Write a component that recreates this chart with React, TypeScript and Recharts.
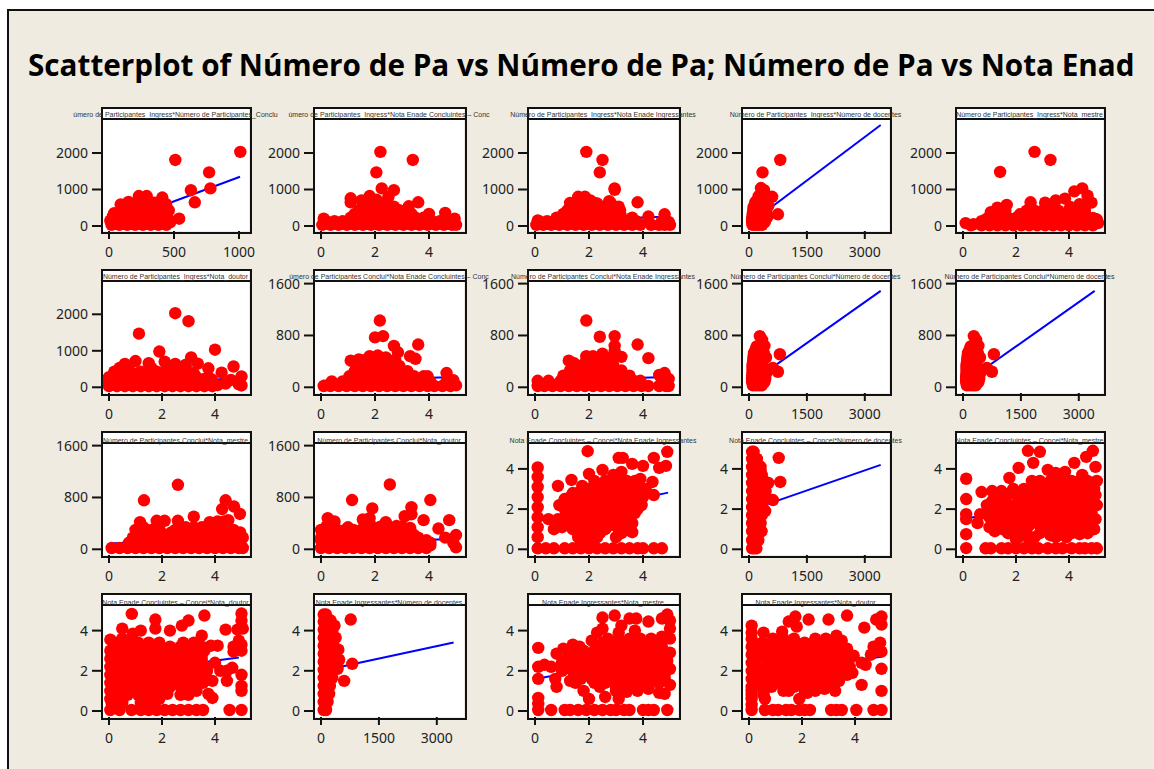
import { ScatterChart, Scatter, XAxis, YAxis } from "recharts";

type Pt = number[];
const row = (y: number, xs: number[]): Pt[] => xs.map((x) => [x, y]);

// values, one list per panel: [x, y]
const p01: Pt[] = [[1010,2030],[510,1810],[770,1470],[780,1030],[630,980],[660,650],[540,200],[470,100],[460,430],[440,600],[410,780],[350,640],[290,820],[230,820],[150,660],[90,590],[270,640],[220,640],[410,620],[300,700],[40,350],[145,520],
  ...row(30,[20,80,140,200,260,320,380,440]),
  ...row(150,[10,50,110,170,230,290,350,410,470]),
  ...row(270,[30,80,140,200,260,320,380,440]),
  ...row(390,[100,170,230,290,350,410,450]),
  ...row(510,[130,250,290,360,420])];
const p02: Pt[] = [[2.2,2030],[3.4,1810],[2.05,1470],[2.25,1030],[2.7,980],[1.1,760],[1.1,650],[3.25,540],[3.6,650],[4.6,360],[4.95,200],[.1,200],[1.5,700],[1.8,820],[2.4,640],[2.5,800],[2.05,720],
  ...row(30,[.05,.35,.65,.95,1.25,1.55,1.85,2.15,2.45,2.75,3.05,3.35,3.65,3.95,4.25,4.55,4.85,5]),
  ...row(80,[.2,.5,.8,1.1,3.9,4.1,4.4,4.7]),
  ...row(130,[.2,.5,.8,1.1,1.4,1.7,2,2.3,2.6,2.9,3.2,3.5,3.8,4.1,4.4,4.7]),
  ...row(230,[1.1,1.4,1.7,2,2.3,2.6,2.9,3.2,3.5,3.8,4.6]),
  ...row(330,[1.25,1.55,1.85,2.15,2.45,2.75,3.05,3.35,4]),
  ...row(430,[1.4,1.7,2,2.3,2.6,2.9]),
  ...row(530,[1.55,1.85,2.15,2.45,2.7]),
  ...row(630,[1.7,2,2.25])];
const p03: Pt[] = [[1.9,2030],[2.5,1810],[2.4,1470],[2.95,1030],[2.95,990],[3.8,650],[4.2,260],[4.8,320],[4.95,110],[.1,150],
  ...row(30,[.05,.3,.6,.9,1.2,1.5,1.8,2.1,2.4,2.7,3,3.3,3.6,3.9,4.3,4.6,4.8,5]),
  ...row(130,[.15,.45,.75,1.05,1.35,1.65,1.95,2.25,2.55,2.85,3.15,3.45,3.75,4.2,4.7]),
  ...row(230,[.8,1.1,1.4,1.7,2,2.3,2.6,2.9,3.2,3.6]),
  ...row(330,[1.05,1.35,1.65,1.95,2.25,2.55,2.85,3.15]),
  ...row(430,[1.2,1.5,1.8,2.1,2.4,2.7,3,3.15]),
  ...row(530,[1.35,1.65,1.95,2.25,2.55,2.85,3.1]),
  ...row(630,[1.3,1.6,1.9,2.2,2.8]),
  [1.6,800],[1.85,800],[2.05,700],[2.3,620],[2.75,680]];
const p04: Pt[] = [[810,1810],[350,1470],[310,1040],[390,980],[600,800],[750,320],[500,550],[480,260],[420,700],[250,820],
  ...row(30,[90,170,250,340]),
  ...row(110,[80,160,240,320,410]),
  ...row(190,[80,170,250,330,440]),
  ...row(270,[90,170,250,330,420]),
  ...row(350,[100,180,260,340,450]),
  ...row(450,[110,190,270,370]),
  ...row(520,[120,200,280,380]),
  ...row(590,[150,230,310,400]),
  ...row(660,[170,250,340]),
  ...row(730,[230,350])];
const p05: Pt[] = [[2.7,2030],[3.3,1810],[1.4,1480],[4.5,1030],[4.2,950],[4.7,830],[4.85,640],[1.65,580],[1.3,500],[1.05,380],[2.55,650],[3.1,640],[3.5,700],[3.85,750],[.1,80],[.4,50],[.7,130],[.9,200],[5.05,180],[5.1,80],[4.4,600],
  ...row(20,[.3,.7,1,1.3,1.6,1.9,2.2,2.5,2.8,3.1,3.4,3.7,4,4.3,4.6,4.9]),
  ...row(120,[.85,1.15,1.45,1.75,2.05,2.35,2.65,2.95,3.25,3.55,3.85,4.15,4.45,4.75,5]),
  ...row(220,[1.1,1.4,1.7,2,2.3,2.6,2.9,3.2,3.5,3.8,4.1,4.4,4.7,4.9]),
  ...row(320,[1.25,1.55,2.15,2.45,2.75,3.05,3.35,3.65,3.95,4.25,4.55]),
  ...row(420,[1.3,1.6,2.4,2.7,3,3.3,3.6,4,4.3,4.6]),
  ...row(520,[2.55,3.15,3.45,4.05,4.6])];
const p06: Pt[] = [[2.5,2030],[3,1810],[1.13,1470],[4,1030],[1.9,980],[3.1,820],[3.35,650],[3.75,520],[4.7,570],[4.25,400],[5,300],[.6,640],[1,720],[1.5,660],[2.5,640],[2.9,620],[2.1,700],[2.2,500],[4.6,200],[4.9,80],[4.4,100],[5,50],[4.1,60],[3.9,180],
  ...row(30,[0,.3,.6,.9,1.2,1.5,1.8,2.1,2.4,2.7,3,3.3,3.6,3.9]),
  ...row(80,[.15,.45,.75,1.05,1.35,1.65,1.95,2.25,2.55,2.85,3.15,3.45,3.75]),
  ...row(130,[.15,.45,.75,1.05,1.35,1.65,1.95,2.25,2.55,2.85,3.15,3.45,3.75,0]),
  ...row(230,[0,.3,.6,.9,1.2,1.5,1.8,2.1,2.4,2.7,3,3.3,3.6,3.85]),
  ...row(280,[0,.3,.6,.9,1.2,1.5,1.8,2.1,2.4,2.7,3,3.3]),
  ...row(330,[.15,.45,.75,1.05,1.35,1.65,1.95,2.25,2.55,2.85,3.15]),
  ...row(380,[.2,.5,.8,1.1,1.4,1.7,2,2.3,2.6,2.9,3.2]),
  ...row(430,[.2,.5,.8,1.2,1.5,1.8,2.4,2.7,3]),
  ...row(530,[.4,.7,1.6,2.3,2.65])];
const p07: Pt[] = [[2.18,1030],[2,770],[2.3,790],[2.7,640],[3.6,660],[2.85,540],[3.3,480],[3.5,440],[1.1,410],[1.4,430],[1.8,480],[2.1,490],[2.4,460],[2.7,410],[4.65,220],[4.9,110],[5,30],
  ...row(20,[.1,.35,.65,.95,1.25,1.55,1.85,2.15,2.45,2.75,3.05,3.35,3.65,3.95,4.2,4.5,4.8]),
  ...row(90,[.4,.8,1.1,1.4,1.7,2,2.3,2.6,2.9,3.2,3.5,3.8,4.05,4.65]),
  ...row(170,[1.05,1.35,1.65,1.95,2.25,2.55,2.85,3.15,3.45,3.8,3.95]),
  ...row(250,[1.25,1.55,1.85,2.15,2.45,2.75,3.2]),
  ...row(330,[1.45,1.75,2.05,2.35,2.65,2.9]),
  ...row(420,[1.6,1.9,2.2,2.5,2.75])];
const p08: Pt[] = [[1.9,1030],[2.4,780],[2.95,790],[2.95,640],[2.95,560],[3.8,660],[4.2,450],[3.2,470],[1.25,410],[1.45,370],[1.9,480],[2.15,480],[2.5,520],[2.8,460],[4.8,220],[4.6,190],[4.95,130],
  ...row(20,[.1,.35,.65,.95,1.25,1.55,1.85,2.15,2.45,2.75,3.05,3.35,3.65,3.95,4.2,4.6,4.85,4.95]),
  ...row(100,[.1,.5,.95,1.25,1.55,1.85,2.15,2.45,2.75,3.05,3.35,3.65,3.9,4.7]),
  ...row(180,[1.05,1.35,1.65,1.95,2.25,2.55,2.85,3.15,3.5,4.8]),
  ...row(260,[1.3,1.6,1.9,2.2,2.5,2.8,3.2]),
  ...row(340,[1.75,2.05,2.35,2.65,2.9]),
  ...row(410,[1.9,2.2,2.5,2.8])];
const concluiDocentes: Pt[] = [[280,790],[340,730],[400,640],[800,510],[750,240],[620,300],[440,460],[230,540],
  ...row(30,[100,180,260,330]),
  ...row(80,[80,160,240,320,400]),
  ...row(130,[80,170,250,330,420]),
  ...row(180,[80,160,240,320,400]),
  ...row(230,[90,170,250,330,460]),
  ...row(280,[90,170,250,330,410]),
  ...row(330,[90,170,250,340]),
  ...row(380,[100,180,260,340]),
  ...row(430,[110,190,270,370]),
  ...row(480,[120,200,280,360]),
  ...row(530,[130,210,290,380]),
  ...row(580,[170,250,330]),
  ...row(630,[200,340])];
const p11: Pt[] = [[2.6,996],[1.32,756],[4.4,756],[4.27,620],[4.72,660],[4.94,545],[3.2,505],[4.5,450],[1.17,420],[1.8,440],[2.1,440],[2.6,440],[3.8,420],[4.1,430],[4.35,430],
  ...row(20,[.1,.4,.7,1,1.3,1.6,1.9,2.2,2.5,2.8,3.1,3.4,3.7,4,4.3,4.6,4.9,5.05]),
  ...row(60,[.75,1.05,1.35,1.65,1.95,2.25,2.55,2.85,3.15,3.45,3.75,4.05,4.35,4.65,4.95]),
  ...row(100,[.75,1.05,1.35,1.65,1.95,2.25,2.55,2.85,3.15,3.45,3.75,4.05,4.35,4.65,4.95]),
  ...row(140,[.9,1.2,1.5,1.8,2.1,2.4,2.7,3,3.3,3.6,3.9,4.2,4.5,4.8]),
  ...row(180,[.9,1.2,1.5,1.8,2.1,2.4,2.7,3,3.3,3.6,3.9,4.2,4.5,4.8,5.05]),
  ...row(220,[1.05,1.35,1.65,1.95,2.25,2.55,2.85,3.15,3.45,3.75,4.05,4.35,4.65]),
  ...row(260,[1.05,1.35,1.65,1.95,2.35,2.85,3.15,3.45,3.75,4.05,4.55,4.95]),
  ...row(300,[1,1.3,1.6,1.9,2.5,2.8,3.1,3.4,3.7,4.3,4.7]),
  ...row(340,[1.3,2.9,3.2,3.5,4.15])];
const p12: Pt[] = [[2.55,1000],[1.15,760],[4.05,760],[1.9,630],[3.35,650],[3.35,540],[3.1,510],[3.8,450],[4.75,450],[4.35,320],[5,220],[4.6,180],[4.9,100],[5,30],[.25,480],[.5,430],[.1,280],[1.55,460],[1.8,480],[2.4,420],[2.8,360],[3.3,330],[1,340],
  ...row(20,[0,.3,.6,.9,1.2,1.5,1.8,2.1,2.4,2.7,3,3.3,3.6,3.9]),
  ...row(60,[.15,.45,.75,1.05,1.35,1.65,1.95,2.25,2.55,2.85,3.15,3.45,3.75,4.05]),
  ...row(100,[.15,.45,.75,1.05,1.35,1.65,1.95,2.25,2.55,2.85,3.15,3.45,3.75,4.05]),
  ...row(140,[0,.3,.6,.9,1.2,1.5,1.8,2.1,2.4,2.7,3,3.3,3.6,3.9]),
  ...row(180,[0,.3,.6,.9,1.2,1.5,1.8,2.1,2.4,2.7,3,3.3,3.6]),
  ...row(220,[.15,.45,.75,1.05,1.35,1.65,1.95,2.25,2.55,2.85,3.15,3.45]),
  ...row(260,[.15,.45,.75,1.05,1.35,1.65,1.95,2.25,2.55,2.85,3.15]),
  ...row(300,[0,.3,.6,.9,1.2,1.5,1.8,2.1,2.4,2.7,3,3.3]),
  ...row(350,[.2,.5,1.6,1.9,2.2,2.5,3])];
const p13: Pt[] = [[1.95,4.88],[.1,4.07],[.1,3.6],[.1,3.1],[.1,2.6],[.1,2.1],[.1,1.6],[.1,1.1],[.1,.6],[.85,3.15],[1.35,3.45],[1.75,3.15],[2,3.75],[2.5,3.95],[3.1,4.55],[3.25,4.55],[3.6,4.25],[4,4.15],[4.4,4.55],[4.9,4.85],[4.85,4.15],[4.6,4.05],[4.35,3.35],[4.1,3],[3.9,3.5],[4.4,2.7],[3.85,2.3],[3.6,1.3],[3.6,.85],[3,.6],[.5,1.5],[.7,1],[1,1.1],[.85,1.5],[.9,2.2],[1.1,2.5],[3.2,3.85],[2.9,3.7],
  ...row(.05,[.1,.4,.7,1.1,1.4,1.7,2,2.3,2.6,2.9,3.2,3.5,3.8,4,4.4,4.7]),
  ...row(3.4,[2.2,2.6,3,3.4,3.7]),
  ...row(3.2,[2.4,2.8,3.2,3.6]),
  ...row(3,[2,2.4,2.8,3.2,3.6,3.9]),
  ...row(2.8,[1.4,1.6,2,2.4,2.8,3.2,3.6,3.9]),
  ...row(2.6,[1.3,1.8,2.2,2.6,3,3.4,3.8,4]),
  ...row(2.4,[1.1,1.4,1.8,2.2,2.6,3,3.4,3.8]),
  ...row(2.2,[1.2,1.6,2,2.4,2.8,3.2,3.6,3.95]),
  ...row(2,[1.1,1.4,1.8,2.2,2.6,3,3.4,3.8]),
  ...row(1.8,[1.3,1.8,2.2,2.6,3,3.4,3.7]),
  ...row(1.6,[1.1,1.4,1.8,2.2,2.6,3,3.4]),
  ...row(1.4,[1.2,1.6,2,2.4,2.8,3.2,3.5]),
  ...row(1.2,[1.3,1.6,2,2.4,2.8,3.2]),
  ...row(1,[1.4,1.8,2.2,2.6,3.1,3.4]),
  ...row(.8,[1.6,2,2.4,3.2]),
  ...row(.6,[1.6,2,2.3]),
  ...row(.3,[1.7,2.1])];
const p14: Pt[] = [[770,4.55],[810,3.35],[620,2.45],[500,3.3],[450,2.6],[300,3.9],[350,3.5],[420,1.9],[320,.9],[400,3.1],[200,4.5],
  ...row(.05,[80,130,190]),
  ...row(.45,[80,170,240]),
  ...row(.9,[80,170,250,320]),
  ...row(1.3,[80,170,250,300]),
  ...row(1.7,[80,160,240,330]),
  ...row(2.1,[80,160,240,350]),
  ...row(2.5,[80,160,240,320,380]),
  ...row(2.9,[80,160,240,350,430]),
  ...row(3.3,[80,160,240,320,400]),
  ...row(3.7,[80,160,240,330]),
  ...row(4.1,[80,160,230,300]),
  ...row(4.5,[80,140,200]),
  ...row(4.85,[80,120])];
const p15: Pt[] = [[.12,3.51],[.12,2.5],[.12,1.75],[.12,1.5],[.12,.75],[.12,.06],[.7,2.85],[1.1,2.9],[1.45,2.9],[1.75,3.55],[2.1,4.05],[2.45,4.9],[2.9,4.85],[2.65,4.3],[3.2,3.95],[3.5,3.8],[3.85,3.85],[4.2,4.3],[4.65,4.6],[4.9,4.9],[5,4.1],[5.05,3.4],[4.5,3.7],[2.6,3.4],[.65,1.75],[.55,1.3],[1,1.1],[1.2,.9],[2,.5],[2.5,.5],[4.4,.75],[4.95,1],[5,1.5],[5.05,2.2],[5,2.7],[3.9,.6],[3.3,.7],[1.7,1],
  ...row(.05,[.85,1.05,1.45,1.7,2,2.3,2.6,2.85,3.2,3.5,3.75,4.1,4.4,4.6,4.85,5.05]),
  ...row(3.4,[2.9,3.3,3.7,4.1,4.4,4.7]),
  ...row(3.2,[2.7,3.1,3.5,3.9,4.3,4.7]),
  ...row(3,[1.9,2.3,2.7,3.1,3.5,3.9,4.3,4.7,4.95]),
  ...row(2.8,[1.4,1.8,2.3,2.7,3.1,3.5,3.9,4.3,4.7]),
  ...row(2.6,[1.2,1.6,2.1,2.5,2.9,3.3,3.7,4.1,4.5,4.85]),
  ...row(2.4,[1.1,1.6,2.1,2.5,2.9,3.3,3.7,4.1,4.5,4.9]),
  ...row(2.2,[.9,1.4,1.9,2.3,2.7,3.1,3.5,3.9,4.3,4.7]),
  ...row(2,[1.2,1.4,1.8,2.3,2.7,3.1,3.5,3.9,4.3,4.7]),
  ...row(1.8,[1,1.6,2.1,2.5,2.9,3.3,3.7,4.1,4.5,4.85]),
  ...row(1.6,[1,1.4,1.8,2.1,2.5,2.9,3.3,3.7,4.1,4.5]),
  ...row(1.4,[1.3,1.8,2.3,2.7,3.1,3.5,3.9,4.3,4.7]),
  ...row(1.2,[1.4,1.7,2.1,2.5,2.9,3.3,3.7,4.1,4.5]),
  ...row(1,[1.5,2,2.4,3.1,3.5,3.9,4.2]),
  ...row(.8,[1.7,2.2,2.9,3.3,3.7,4.1,4.7]),
  ...row(.6,[2.1,2.7,3.5])];
const p16: Pt[] = [[.86,4.83],[1.75,4.55],[.5,4.1],[1.2,4],[2.3,4],[3,4.5],[2.75,4.25],[3.6,4.75],[4.4,4.05],[4.85,4.05],[5,4.85],[5,4.5],[5.05,4.1],[4.9,3.5],[5,3.3],[4.7,3.2],[5,3],[4.7,2.95],[.05,3.55],[.5,3.6],[.9,3.85],[3.5,3.75],[3.85,3.25],[4.1,3.25],[4,2.4],[4.2,2],[4.45,2],[4.65,2.15],[5,1.8],[4.45,1.5],[5,1.25],[5,1],[3.9,1.5],[3.3,1],[3.75,.85],[3.9,.65],[2.2,.85],[1.5,.6],[1.9,.6],[4.55,.05],[5,.05],[1.75,4.1],
  ...row(.05,[.05,.4,.85,1.2,1.5,1.8,2.1,2.4,2.7,3,3.3,3.55]),
  ...row(3.4,[.3,.7,1.1,1.5,1.9,2.8,3.2]),
  ...row(3.2,[.3,.7,1.1,1.5,1.9,2.3,2.7,3.1,3.5]),
  ...row(3,[.05,.5,.9,1.3,1.7,2.1,2.5,2.9,3.3,3.6]),
  ...row(2.8,[.3,.7,1.1,1.5,1.9,2.3,2.7,3.1,3.5]),
  ...row(2.6,[.3,.7,1.1,1.5,1.9,2.3,2.7,3.1,3.5,.05]),
  ...row(2.4,[.3,.7,1.1,1.5,1.9,2.3,2.7,3.1,3.5]),
  ...row(2.2,[.05,.5,.9,1.3,1.7,2.1,2.5,2.9,3.3,3.6]),
  ...row(2,[.3,.7,1.1,1.5,1.9,2.3,2.7,3.1,3.5,3.7]),
  ...row(1.8,[.3,.7,1.1,1.5,1.9,2.3,2.7,3.1,3.5,.05]),
  ...row(1.6,[.3,.7,1.1,1.5,1.9,2.3,2.7,3.1,3.5]),
  ...row(1.4,[.05,.5,.9,1.3,1.7,2.1,2.5,2.9,3.3,3.55]),
  ...row(1.2,[.3,.7,1.1,1.5,1.9,2.3,2.7,3.1]),
  ...row(1,[.3,.7,1.1,1.5,1.8,2.8,.05]),
  ...row(.8,[.3,.7,1.1,1.7,2.7,3]),
  ...row(.6,[.05,.5]),
  ...row(.4,[.1,.5,1.2,1.7])];
const p17: Pt[] = [[770,4.55],[810,2.35],[600,1.5],[430,2.1],[470,2.55],[450,3.05],[380,3.65],[350,4.25],[250,4.5],[130,4.8],
  ...row(.05,[70,130]),
  ...row(.45,[70,130,170]),
  ...row(.85,[70,150,210]),
  ...row(1.25,[70,150,230]),
  ...row(1.65,[70,150,230,290]),
  ...row(2.05,[70,150,230,330]),
  ...row(2.45,[70,150,230,300,350]),
  ...row(2.85,[70,150,230,350]),
  ...row(3.25,[70,150,230,330]),
  ...row(3.65,[70,150,230,300]),
  ...row(4.05,[70,150,220,300]),
  ...row(4.45,[70,150,230]),
  ...row(4.8,[70])];
const p18: Pt[] = [[.12,3.14],[.12,2.2],[.12,1.6],[.12,.65],[.12,.35],[.12,.05],[.35,2.3],[.6,2.2],[.8,1.2],[.75,1.6],[.8,2.85],[1.05,3.1],[1.4,3.3],[1.65,3.2],[1.3,1.5],[1.8,1],[2,.6],[2.6,.7],[3.1,.6],[2.1,3.5],[2.3,3.9],[2.5,4.1],[2.5,4.65],[2.95,4.75],[3.2,4.25],[3.5,4.6],[3.75,4.6],[4.2,4.45],[4.7,4.6],[4.9,4.8],[5,4.5],[5,4.1],[4.7,3.7],[5,3.6],[5,2.9],[5,2.1],[5,1.3],[4.8,.85],[4.6,.9],[4.2,1.1],[3.4,.95],[4.9,2.5],[3.7,4],[3.1,3.9],
  ...row(.05,[.6,1.1,1.3,1.6,1.9,2.2,2.5,2.8,3,3.3,3.5,4,4.2,4.4,4.9]),
  ...row(3.6,[2.7,3.1,3.5,3.9,4.3]),
  ...row(3.4,[2.5,2.9,3.3,3.7,4.1,4.5]),
  ...row(3.2,[2.4,2.8,3.2,3.6,4,4.4,4.7]),
  ...row(3,[1.8,2.2,2.6,3,3.4,3.8,4.2,4.6]),
  ...row(2.8,[1.4,1.8,2.2,2.6,3,3.4,3.8,4.2,4.6]),
  ...row(2.6,[1.2,1.6,2,2.4,2.8,3.2,3.6,4,4.4,4.8]),
  ...row(2.4,[1,1.6,2,2.4,2.8,3.2,3.6,4,4.4,4.8]),
  ...row(2.2,[1.2,1.4,1.8,2.2,2.6,3,3.4,3.8,4.2,4.6]),
  ...row(2,[1,1.4,1.8,2.2,2.6,3,3.4,3.8,4.2,4.6]),
  ...row(1.8,[1.6,2,2.4,2.8,3.2,3.6,4,4.4,4.8]),
  ...row(1.6,[1.7,2.1,2.5,2.9,3.3,3.7,4.1,4.5,4.8]),
  ...row(1.4,[1.5,2.2,2.6,3,3.4,3.8,4.2,4.6]),
  ...row(1.2,[2.4,3,3.4,3.8,4.2]),
  ...row(1,[3,3.4,3.8])];
const p19: Pt[] = [[.1,4.25],[.1,3.9],[.55,3.9],[1.25,3.95],[1.5,4.45],[1.75,4.7],[1.8,4.2],[2.25,4.55],[3,4.55],[3.7,4.75],[4.35,4.15],[4.8,4.55],[5,4.7],[5,4.3],[4.95,3.4],[4.7,3.2],[5,2.95],[4.6,2.8],[5,2.1],[4.4,2.3],[4.25,2.4],[3.95,2.75],[3.7,3.1],[3.3,3.75],[3.5,3.5],[3.9,1.9],[4.25,1.3],[5,1],[3.4,1.5],[3.25,1],[2.85,1.1],[2.2,.9],[1.9,.6],[1.3,1],[.85,1.2],[.6,.6],[.1,.6],[.1,.3],
  ...row(.05,[.1,.6,.9,1.1,1.4,1.6,1.9,2.1,2.3,3.1,3.3,3.5,4.05,4.7,5]),
  ...row(3.6,[.1,.9,1.3,1.7,2.5,2.9]),
  ...row(3.4,[.5,.9,1.3,1.7,2.1,2.5,2.9,3.3]),
  ...row(3.2,[.1,.5,1.1,1.5,1.9,2.3,2.7,3.1,3.4]),
  ...row(3,[.3,.7,1.1,1.5,1.9,2.3,2.7,3.1,3.5]),
  ...row(2.8,[.1,.5,.9,1.3,1.7,2.1,2.5,2.9,3.3,3.6]),
  ...row(2.6,[.3,.7,1.1,1.5,1.9,2.3,2.7,3.1,3.5,3.8]),
  ...row(2.4,[.1,.7,1.1,1.5,1.9,2.3,2.7,3.1,3.5]),
  ...row(2.2,[.3,.7,1.1,1.5,1.9,2.3,2.7,3.1,3.5,3.8]),
  ...row(2,[.1,.5,.9,1.3,1.7,2.1,2.5,2.9,3.3,3.7]),
  ...row(1.8,[.3,.7,1.1,1.5,1.9,2.3,2.7,3.1,3.5,3.7]),
  ...row(1.6,[.1,.7,1.1,1.5,1.9,2.3,2.7,3.1]),
  ...row(1.4,[.3,.7,1.1,1.5,1.9,2.3,2.7,3.1]),
  ...row(1.2,[.1,.5,1.7,2.1,2.5,2.9]),
  ...row(1,[.1,.55,1.5,2.1,2.5]),
  ...row(.8,[.1,.55])];

// fitted lines, end points only
const fits: Pt[][] = [
  [[0,15],[1008,1350]], [[.05,140],[5,250]], [[.05,120],[5,260]], [[30,80],[3412,2767]], [[.1,60],[5.1,320]],
  [[0,120],[5.1,240]], [[.05,100],[5.05,160]], [[.05,100],[4.95,160]], [[30,66],[3412,1488]], [[30,66],[3412,1488]],
  [[.05,90],[5,190]], [[0,100],[5,160]], [[.05,1.4],[4.93,2.82]], [[30,1.95],[3412,4.2]], [[.1,1.55],[5.05,2.4]],
  [[.05,1.8],[4.9,2.66]], [[30,2],[3436,3.41]], [[.05,1.6],[5,2.8]], [[.05,1.9],[5,2.7]],
];

const titles = [
  "úmero de Participantes_Ingress*Número de Participantes_Conclu",
  "úmero de Participantes_Ingress*Nota Enade Concluintes – Conc",
  "Número de Participantes_Ingress*Nota Enade Ingressantes",
  "Número de Participantes_Ingress*Número de docentes",
  "Número de Participantes_Ingress*Nota_mestre",
  "Número de Participantes_Ingress*Nota_doutor",
  "úmero de Participantes Conclui*Nota Enade Concluintes – Conc",
  "Número de Participantes Conclui*Nota Enade Ingressantes",
  "Número de Participantes Conclui*Número de docentes",
  "Número de Participantes Conclui*Número de docentes",
  "Número de Participantes Conclui*Nota_mestre",
  "Número de Participantes Conclui*Nota_doutor",
  "Nota Enade Concluintes – Concei*Nota Enade Ingressantes",
  "Nota Enade Concluintes – Concei*Número de docentes",
  "Nota Enade Concluintes – Concei*Nota_mestre",
  "Nota Enade Concluintes – Concei*Nota_doutor",
  "Nota Enade Ingressantes*Número de docentes",
  "Nota Enade Ingressantes*Nota_mestre",
  "Nota Enade Ingressantes*Nota_doutor",
];
const points = [p01,p02,p03,p04,p05,p06,p07,p08,concluiDocentes,concluiDocentes,p11,p12,p13,p14,p15,p16,p17,p18,p19];
const xKinds = ["part","nota","nota","doc","nota", "nota","nota","nota","doc","doc", "nota","nota","nota","doc","nota", "nota","doc","nota","nota"];
const yKinds = ["ing","ing","ing","ing","ing", "ing","conc","conc","conc","conc", "conc","conc","nota","nota","nota", "nota","nota","nota","nota"];

const xTicks: Record<string, number[]> = { part: [0, 500, 1000], nota: [0, 2, 4], doc: [0, 1500, 3000] };
const yTicks: Record<string, number[]> = { ing: [0, 1000, 2000], conc: [0, 800, 1600], nota: [0, 2, 4] };
const yScale: Record<string, number> = { ing: 0.0365, conc: 0.0648, nota: 20.1 };

// page layout in pixels
const colLeft = [102, 314, 528, 742, 956];
const colRight = [249, 464, 678, 889, 1103];
const colZero = [109, 321, 535, 749, 963];
const notaScale = [26.5, 27, 27, 26.5, 26.5];
const rowTop = [108, 270, 432, 594];
const rowStrip = [119, 281, 443, 605];
const rowBottom = [231, 393, 555, 717];
const rowZero = [226, 387.3, 549.3, 711];
const labelY = [115, 277, 441, 603];

const Dot = (props: any) => <circle cx={props.cx} cy={props.cy} r={6.2} fill="#ff0000" />;
const NoDot = () => null;
const toRows = (pts: Pt[]) => pts.map((p) => ({ x: p[0], y: p[1] }));

const tickStyle = { fontSize: 14, fill: "#222", fontFamily: "'Noto Sans', sans-serif" };
const tickLine = { stroke: "#111", strokeWidth: 2 };

function Panel({ index }: { index: number }) {
  const col = index % 5;
  const r = Math.floor(index / 5);
  const L = colLeft[col];
  const R = colRight[col];
  const T = rowTop[r];
  const S = rowStrip[r];
  const B = rowBottom[r];
  const xk = xKinds[index];
  const yk = yKinds[index];
  const sx = xk === "part" ? 0.13 : xk === "doc" ? 0.0386 : notaScale[col];
  const sy = yScale[yk];
  const xDomain = [-(colZero[col] - L) / sx, (R - colZero[col]) / sx];
  const yDomain = [-(B - rowZero[r]) / sy, (rowZero[r] - S) / sy];
  const center = (L + R) / 2;
  return (
    <>
      <div style={{ position: "absolute", left: L, top: T, width: R - L, height: B - T, background: "#fff" }} />
      <div style={{ position: "absolute", left: L - 60, top: S - 25 }}>
        <ScatterChart width={R - L + 70} height={B - S + 60} margin={{ top: 25, right: 10, bottom: 0, left: 0 }}>
          <XAxis type="number" dataKey="x" domain={xDomain} ticks={xTicks[xk]} interval={0} height={35} axisLine={false} tickLine={tickLine} tickSize={8} tickMargin={8} tick={tickStyle} />
          <YAxis type="number" dataKey="y" domain={yDomain} ticks={yTicks[yk]} interval={0} width={60} axisLine={false} tickLine={tickLine} tickSize={10} tickMargin={4} tick={tickStyle} />
          <Scatter data={toRows(fits[index])} line={{ stroke: "#0000ff", strokeWidth: 2 }} shape={NoDot} isAnimationActive={false} />
          <Scatter data={toRows(points[index])} shape={Dot} isAnimationActive={false} />
        </ScatterChart>
      </div>
      <div style={{ position: "absolute", left: L - 1, top: T - 1, width: R - L, height: B - T, border: "2px solid #111", pointerEvents: "none" }} />
      <div style={{ position: "absolute", left: L - 1, top: S - 1, width: R - L + 2, height: 2, background: "#111" }} />
      <div style={{ position: "absolute", left: center - 120, width: 240, top: labelY[r] - 4, height: 8, lineHeight: "8px", fontSize: 7, textAlign: "center", whiteSpace: "nowrap", color: "#333", fontFamily: "'Liberation Sans', Arial, sans-serif" }}>
        {titles[index]}
      </div>
    </>
  );
}

export default function App() {
  return (
    <div style={{ position: "fixed", left: 0, top: 0, width: 1154, height: 769, overflow: "hidden", background: "#fff" }}>
      <div style={{ position: "absolute", left: 7, top: 9, width: 1147, height: 760, background: "#efebe1", borderLeft: "2px solid #111", borderTop: "2px solid #111", boxSizing: "border-box" }} />
      <div style={{ position: "absolute", left: 28, top: 44, fontSize: 29.7, lineHeight: "42px", fontWeight: 700, whiteSpace: "nowrap", color: "#000", fontFamily: "'Open Sans', sans-serif" }}>
        Scatterplot of Número de Pa vs Número de Pa; Número de Pa vs Nota Enad
      </div>
      {titles.map((_, i) => (
        <Panel key={i} index={i} />
      ))}
    </div>
  );
}
